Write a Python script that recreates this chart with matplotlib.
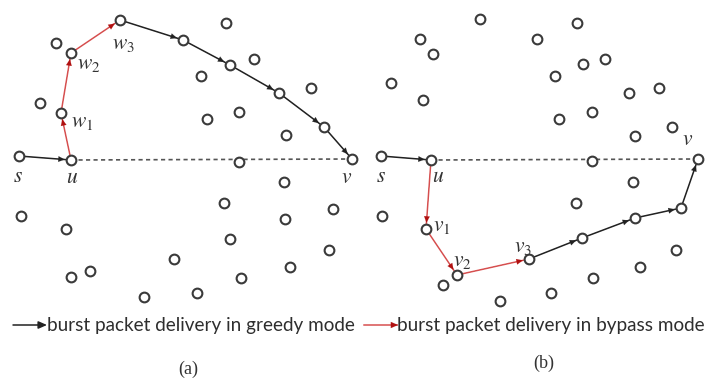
import matplotlib
matplotlib.use("Agg")
import matplotlib.pyplot as plt

plt.rcParams['mathtext.fontset'] = 'stix'

W, H = 707, 380

# node positions, (a) panel
nodes_a_x = [19, 71, 61, 71, 120, 183, 230, 279, 324, 352,
             56, 40, 226, 254, 201, 311, 207, 239, 286, 239, 284,
             21, 66, 224, 285, 333, 230, 329, 174, 290, 71, 90, 241, 144, 197]
nodes_a_y = [156, 160, 113, 53, 20, 40, 65, 93, 127, 159,
             43, 103, 23, 59, 76, 88, 119, 112, 135, 162, 182,
             216, 229, 203, 219, 209, 239, 250, 259, 267, 277, 271, 278, 297, 293]

# node positions, (b) panel
nodes_b_x = [381, 431, 698, 592, 480, 577, 420, 433, 537, 583, 605, 555, 391, 423,
             629, 659, 559, 592, 635, 672, 633, 382, 576, 426, 457, 529, 582, 635,
             681, 676, 640, 593, 551, 443, 500]
nodes_b_y = [156, 160, 159, 161, 19, 23, 39, 54, 39, 64, 59, 76, 83, 100,
             93, 88, 119, 112, 136, 127, 182, 216, 203, 229, 275, 259, 238, 218,
             208, 250, 267, 278, 293, 285, 301]

# routes, as node indices
greedy_a = [[0, 1], [4, 5, 6, 7, 8, 9]]
bypass_a = [[1, 2, 3, 4]]
greedy_b = [[0, 1], [25, 26, 27, 28, 2]]
bypass_b = [[1, 23, 24, 25]]
dashed_a = [1, 9]
dashed_b = [1, 2]

labels_a = [("$s$", 18, 176), ("$u$", 72, 177), ("$v$", 347, 177),
            ("$w_1$", 71, 122), ("$w_2$", 77, 64), ("$w_3$", 112, 44)]
labels_b = [("$s$", 381, 176), ("$u$", 438, 176), ("$v$", 688, 139),
            ("$v_1$", 433, 226), ("$v_2$", 453, 261), ("$v_3$", 514, 247)]

legend_text = ["burst packet delivery in greedy mode",
               "burst packet delivery in bypass mode"]

BLACK = "#222222"
RED_LINE = "#dc5a5a"
RED_HEAD = "#b01010"


def draw_route(ax, xs, ys, path, line_color, head_color):
    for a, b in zip(path[:-1], path[1:]):
        ax.annotate("", xy=(xs[b], ys[b]), xytext=(xs[a], ys[a]),
                    arrowprops=dict(arrowstyle="-", color=line_color, lw=1.1,
                                    shrinkA=0, shrinkB=0), zorder=2)
        ax.annotate("", xy=(xs[b], ys[b]), xytext=(xs[a], ys[a]),
                    arrowprops=dict(arrowstyle="-|>,head_length=0.45,head_width=0.2",
                                    color=head_color, lw=0.1,
                                    shrinkA=0, shrinkB=4.5), zorder=2)


fig = plt.figure(figsize=(W / 100, H / 100), dpi=100)
ax = fig.add_axes([0, 0, 1, 1])
ax.set_xlim(0, W)
ax.set_ylim(H, 0)
ax.axis("off")

for xs, ys, dashed, greedy, bypass, labels in [
        (nodes_a_x, nodes_a_y, dashed_a, greedy_a, bypass_a, labels_a),
        (nodes_b_x, nodes_b_y, dashed_b, greedy_b, bypass_b, labels_b)]:
    ax.plot([xs[dashed[0]], xs[dashed[1]]], [ys[dashed[0]], ys[dashed[1]]],
            ls=(0, (2.5, 2)), color="#555555", lw=1.2, zorder=1)
    for p in greedy:
        draw_route(ax, xs, ys, p, BLACK, BLACK)
    for p in bypass:
        draw_route(ax, xs, ys, p, RED_LINE, RED_HEAD)
    ax.plot(xs, ys, "o", ms=7, mfc="white", mec="#3a3a3a", mew=1.5,
            ls="none", zorder=3)
    for txt, x, y in labels:
        ax.text(x, y, txt, fontsize=15.5, color="#333333",
                ha="left" if "_" in txt else "center", va="center", zorder=4)

# legend
ax.annotate("", xy=(47, 325), xytext=(13, 325),
            arrowprops=dict(arrowstyle="-|>,head_length=0.5,head_width=0.22",
                            color=BLACK, lw=1.1, shrinkA=0, shrinkB=0))
ax.text(47, 325, legend_text[0], fontsize=13.6, family="Lato", color="#2e2e2e",
        ha="left", va="center")
ax.plot([364, 397], [325, 325], color=RED_LINE, lw=1.1)
ax.annotate("", xy=(398, 325), xytext=(364, 325),
            arrowprops=dict(arrowstyle="-|>,head_length=0.5,head_width=0.22",
                            color=RED_HEAD, lw=0.1, shrinkA=0, shrinkB=0))
ax.text(397, 325, legend_text[1], fontsize=13.6, family="Lato", color="#2e2e2e",
        ha="left", va="center")

ax.text(188, 369, "(a)", fontsize=13, family="Liberation Serif", color="#333333",
        ha="center", va="center")
ax.text(544, 363, "(b)", fontsize=13, family="Liberation Serif", color="#333333",
        ha="center", va="center")

fig.savefig("out.png", dpi=100)
